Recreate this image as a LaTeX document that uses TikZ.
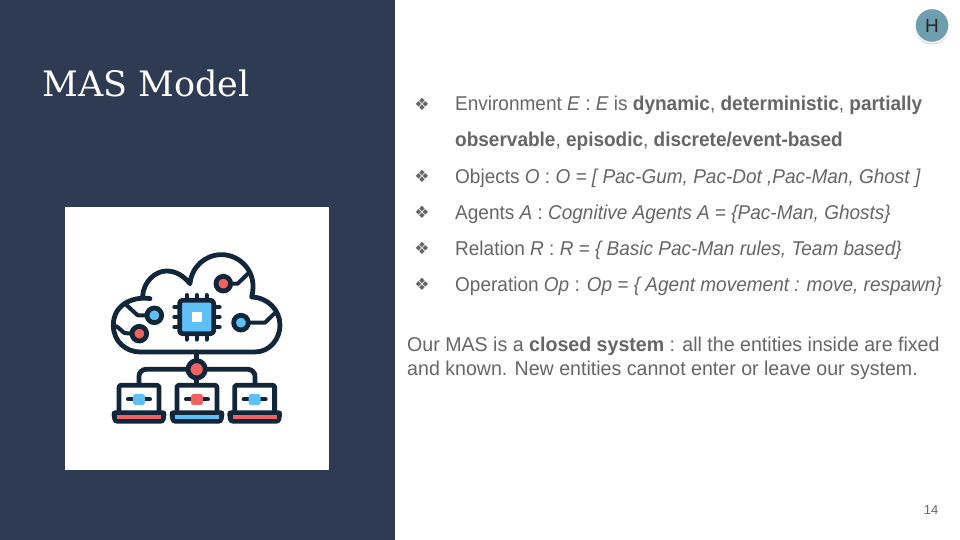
\documentclass[tikz,border=0pt]{standalone}
\usepackage{fontspec}
\setmainfont{Liberation Sans}[FakeStretch=0.95]
\newfontfamily\parafont{Liberation Sans}[FakeStretch=0.98]
\newfontfamily\plainfont{Liberation Sans}
\newfontfamily\titlefont{DejaVu Serif}
\newfontfamily\symbolfont{DejaVu Sans}
\usetikzlibrary{shadows}

\definecolor{panelblue}{HTML}{2F3B52}
\definecolor{bodygrey}{HTML}{666666}
\definecolor{icondark}{HTML}{12263A}
\definecolor{iconblue}{HTML}{5FC0F8}
\definecolor{iconred}{HTML}{F0625F}
\definecolor{badgeteal}{HTML}{6F9FAE}

\begin{document}
\begin{tikzpicture}[x=1pt,y=-1pt]

% Define styles for different elements
\tikzset{bodytext/.style={anchor=base west, inner sep=0pt, text=bodygrey, font=\fontsize{20}{24}\selectfont}}
\tikzset{paratext/.style={bodytext, font=\parafont\fontsize{20}{24}\selectfont}}
\tikzset{bullet/.style={anchor=center, inner sep=0pt, text=bodygrey, font=\symbolfont\fontsize{17}{20}\selectfont}}
\tikzset{iconline/.style={draw=icondark, line width=4.8pt, line cap=round, line join=round}}
\tikzset{iconthin/.style={draw=icondark, line width=4pt, line cap=round, line join=round}}

\useasboundingbox (0,0) rectangle (960,540);

% Draw the panels
\fill[white] (0,0) rectangle (960,540);
\fill[panelblue] (0,0) rectangle (395,540);
\fill[white] (65,207) rectangle (329,470);

% Title, page number, badge
\node (title) [anchor=base west, inner sep=0pt, text=white, font=\titlefont\fontsize{35}{40}\selectfont] at (42,97) {MAS Model};
\node (pagenum) [anchor=center, inner sep=0pt, text=bodygrey, font=\plainfont\fontsize{13}{15}\selectfont] at (931,510) {14};
\node (badge) [circle, minimum size=34pt, inner sep=0pt, fill=badgeteal, draw=white, line width=1.2pt, drop shadow={shadow xshift=0pt, shadow yshift=-2pt, opacity=0.3}, text=black!85, font=\plainfont\fontsize{19}{22}\selectfont] at (932,25.5) {H};

% Bullet list
\foreach \i/\y in {env/104, obj/176, agt/212, rel/248, ope/284} {
  \node (bullet\i) [bullet] at (422,\y) {❖};
}
\node (lineenv) [bodytext] at (455,111) {Environment \textit{E} : \textit{E} is \textbf{dynamic}, \textbf{deterministic}, \textbf{partially}};
\node (lineenvb) [bodytext] at (455,147) {\textbf{observable}, \textbf{episodic}, \textbf{discrete/event-based}};
\node (lineobj) [bodytext] at (455,183) {Objects \textit{O} : \textit{O = [ Pac-Gum, Pac-Dot ,Pac-Man, Ghost ]}};
\node (lineagt) [bodytext] at (455,219) {Agents \textit{A} : \textit{Cognitive Agents A = \{Pac-Man, Ghosts\}}};
\node (linerel) [bodytext] at (455,255) {Relation \textit{R} : \textit{R = \{ Basic Pac-Man rules, Team based\}}};
\node (lineope) [bodytext] at (455,291) {Operation \textit{Op} : \textit{Op = \{ Agent movement : move, respawn\}}};

% Closing paragraph
\node (closea) [paratext] at (407,351) {Our MAS is a \textbf{closed system} : all the entities inside are fixed};
\node (closeb) [paratext] at (407,375) {and known. New entities cannot enter or leave our system.};

% Icon, in the coordinates of the white square times three
\begin{scope}[shift={(65,207)}, x=0.3333pt, y=-0.3333pt]
  % cloud
  \draw[iconline] (255,275) .. controls (215,268) and (145,285) .. (145,355)
    .. controls (145,405) and (185,435) .. (225,435) -- (570,435)
    .. controls (615,435) and (645,395) .. (645,355)
    .. controls (645,310) and (610,272) .. (560,270)
    .. controls (580,195) and (525,143) .. (470,143)
    .. controls (420,143) and (380,180) .. (375,230)
    .. controls (355,205) and (330,192) .. (305,192)
    .. controls (270,192) and (235,225) .. (233,268);
  % traces
  \draw[iconthin] (180,290) -- (218,325) -- (245,325);
  \draw[iconthin] (155,358) -- (178,378) -- (198,380);
  \draw[iconthin] (500,230) -- (518,230) -- (552,197);
  \draw[iconthin] (555,347) -- (600,347) -- (630,318);
  % small discs
  \foreach \x/\y/\c in {268/325/iconblue, 223/380/iconred, 475/230/iconred, 528/347/iconblue} {
    \draw[iconline, fill=\c] (\x,\y) circle (22);
  }
  % chip
  \foreach \d in {-30,0,30} {
    \draw[iconthin] (395+\d,264) -- (395+\d,398);
    \draw[iconthin] (328,330+\d) -- (464,330+\d);
  }
  \draw[iconline, fill=iconblue, rounded corners=3pt] (344,280) rectangle (446,380);
  \fill[white] (380,315) rectangle (411,346);
  % network
  \draw[iconline] (395,435) -- (395,530);
  \draw[iconline, rounded corners=7pt] (222,530) -- (222,487) -- (570,487) -- (570,530);
  \draw[iconline, fill=iconred] (395,487) circle (26);
  % laptops
  \foreach \x/\c/\e in {222/iconblue/iconred, 396/iconred/iconblue, 569/iconblue/iconred} {
    \draw[iconline, fill=white, rounded corners=2pt] (\x-60,612) -- (\x-60,535) -- (\x+60,535) -- (\x+60,612);
    \draw[iconthin] (\x-33,577) -- (\x+33,577);
    \fill[\c, rounded corners=2.5pt] (\x-18,561) rectangle (\x+18,594);
    \fill[icondark, rounded corners=4pt] (\x-84,610) -- (\x+84,610) -- (\x+78,650) -- (\x-78,650) -- cycle;
    \fill[\e] (\x-66,624) rectangle (\x+66,635);
  }
\end{scope}
\end{tikzpicture}
\end{document}
